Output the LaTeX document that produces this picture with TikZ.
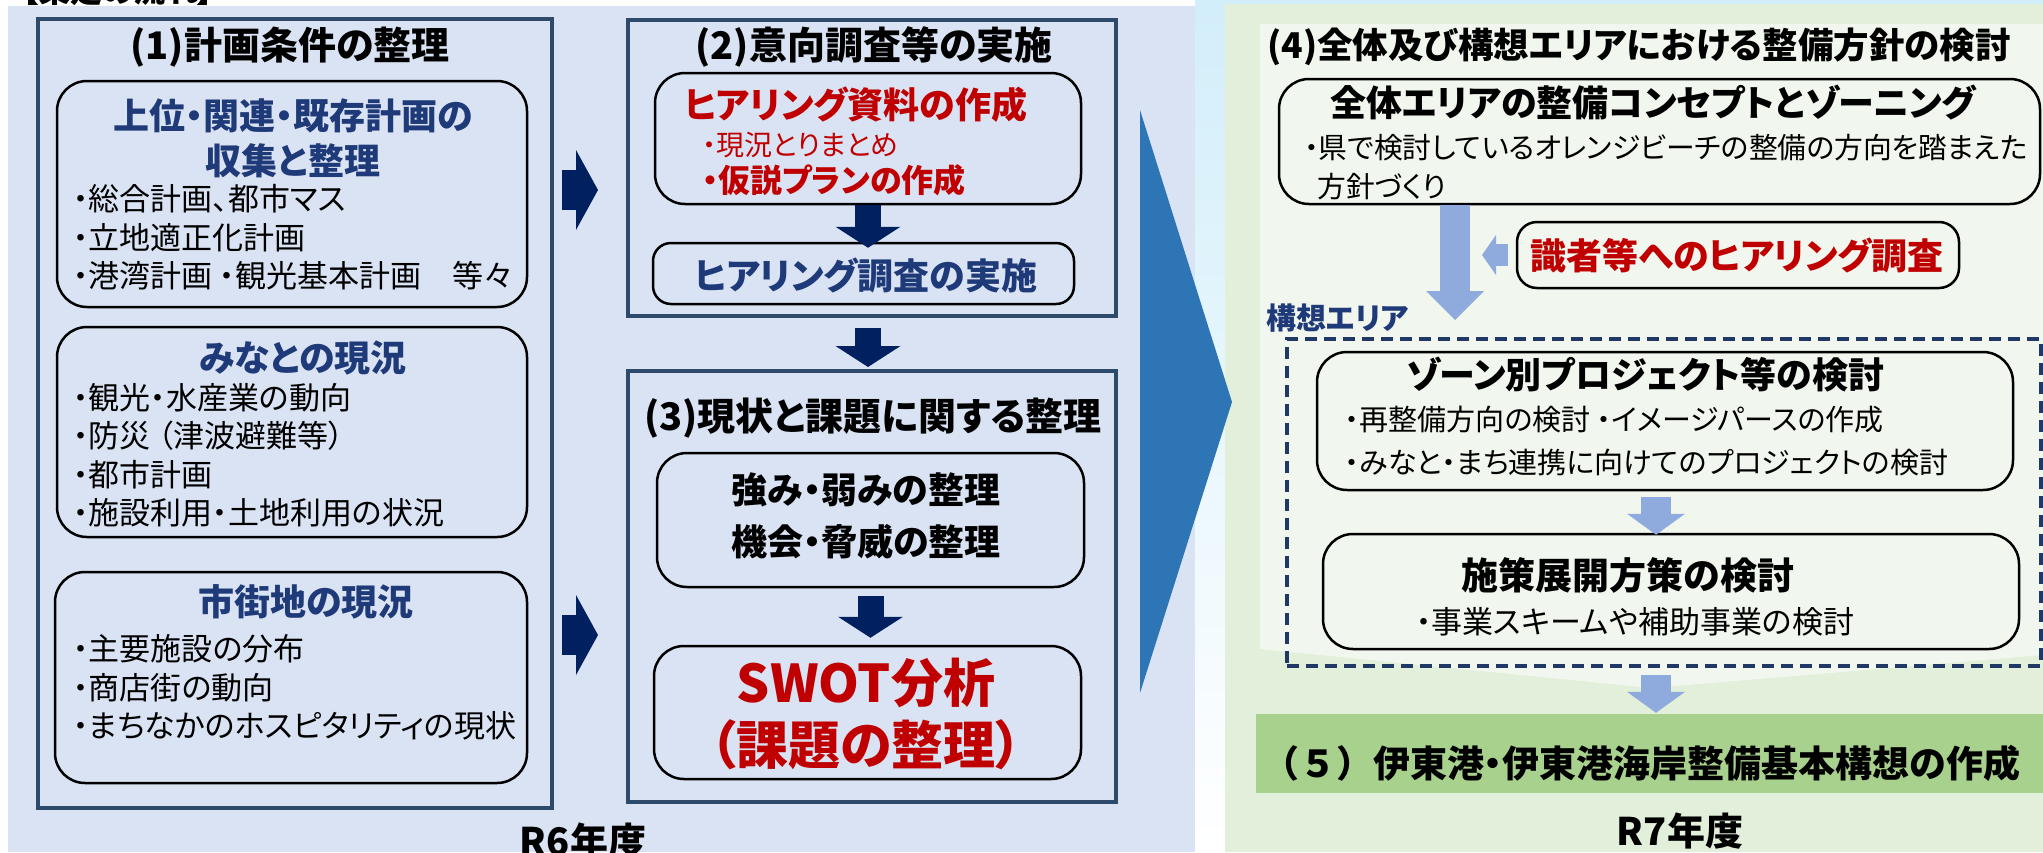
\documentclass[tikz,border=0pt]{standalone}
\usepackage{fontspec}
\setmainfont{Noto Sans CJK JP}[RawFeature=+palt]
\usetikzlibrary{arrows.meta,fit,positioning}

\definecolor{panelblue}{HTML}{DAE3F3}
\definecolor{panelgreen}{HTML}{E2EFDA}
\definecolor{innergreen}{HTML}{F1F7EE}
\definecolor{bandgreen}{HTML}{A9D18E}
\definecolor{framec}{HTML}{2D4A6B}
\definecolor{navy}{HTML}{002060}
\definecolor{textnavy}{HTML}{1F3A78}
\definecolor{darkred}{HTML}{C00000}
\definecolor{bigblue}{HTML}{2E75B6}
\definecolor{lightarrow}{HTML}{8FAADC}
\definecolor{dashc}{HTML}{1F3864}
\definecolor{glow}{HTML}{D2EEFA}

\tikzset{
  frame/.style={draw=framec, line width=4pt, inner sep=0pt},
  rbox/.style={draw=black, line width=2.5pt, rounded corners=30pt, inner sep=0pt},
  txt/.style={inner sep=0pt, align=center},
  head/.style={txt, font=\bfseries\fontsize{38}{44}\selectfont},
  subhead/.style={txt, font=\bfseries\fontsize{36}{45}\selectfont},
  bul/.style={inner sep=0pt, align=left, anchor=west, font=\fontsize{31}{38.5}\selectfont},
  navyR/.style={draw=navy, line width=40pt, -{Triangle[length=22pt, width=80pt, line width=0pt]}},
  navyD/.style={draw=navy, line width=26pt, -{Triangle[length=21pt, width=65pt, line width=0pt]}},
  lightD/.style={draw=lightarrow, line width=30pt, -{Triangle[length=21pt, width=58pt, line width=0pt]}},
  lightL/.style={draw=lightarrow, line width=22pt, -{Triangle[length=14pt, width=40pt, line width=0pt]}},
}

\begin{document}
\begin{tikzpicture}[x=1pt, y=-1pt]
\clip (0,0) rectangle (2043,852);
% background
\fill[white] (0,0) rectangle (2043,852);
\shade[top color=glow, bottom color=white] (1195,0) rectangle (2043,852);
\fill[panelblue] (8,6) rectangle (1195,852);
\fill[panelgreen] (1225,4) rectangle (2043,852);
\fill[innergreen] (1260,24) -- (2043,24) -- (2043,655) -- (1651,688) -- (1260,649) -- cycle;
\fill[bigblue] (1140,110) -- (1232,402) -- (1140,693) -- cycle;
\node[inner sep=0pt, anchor=base west, font=\bfseries\fontsize{32}{32}\selectfont] (flow) at (22,2) {【策定の流れ】};

% (1)
\node[frame, fit={(38,19) (552,808)}] (one) {};
\node[head] (onet) at (290,47) {(1)計画条件の整理};
\node[rbox, fit={(57,81) (527,307)}] (plans) {};
\node[subhead, text=textnavy] (planst) at (293,138) {上位・関連・既存計画の\\収集と整理};
\node[bul] (plansl) at (73,237.5) {・総合計画、都市マス\\・立地適正化計画\\・港湾計画 ・観光基本計画　等々};
\node[rbox, fit={(57,327) (527,537)}] (port) {};
\node[subhead, text=textnavy] (portt) at (303,358) {みなとの現況};
\node[bul] (portl) at (73,455.5) {・観光・水産業の動向\\・防災 （津波避難等）\\・都市計画\\・施設利用・土地利用の状況};
\node[rbox, fit={(55,572) (527,783)}] (town) {};
\node[subhead, text=textnavy] (townt) at (306,602) {市街地の現況};
\node[bul] (townl) at (73,687.5) {・主要施設の分布\\・商店街の動向\\・まちなかのホスピタリティの現状};

% (2)
\node[frame, fit={(628,20) (1116,316)}] (two) {};
\node[head] (twot) at (874,47) {(2)意向調査等の実施};
\node[rbox, fit={(655,73) (1081,204)}] (prep) {};
\node[subhead, anchor=west, text=darkred] (prept) at (684,105) {ヒアリング資料の作成};
\node[inner sep=0pt, anchor=west, text=darkred, font=\fontsize{28}{28}\selectfont] (prep1) at (702,145) {・現況とりまとめ};
\node[inner sep=0pt, anchor=west, text=darkred, font=\bfseries\fontsize{32}{32}\selectfont] (prep2) at (702,180) {・仮説プランの作成};
\node[rbox, rounded corners=18pt, fit={(653,243) (1074,304)}] (survey) {};
\node[subhead, text=textnavy] (surveyt) at (866,275) {ヒアリング調査の実施};

% (3)
\node[frame, fit={(628,371) (1116,802)}] (three) {};
\node[head] (threet) at (873,418) {(3)現状と課題に関する整理};
\node[rbox, fit={(657,453) (1084,587)}] (swot) {};
\node[txt, font=\bfseries\fontsize{36}{52}\selectfont] (swott) at (866,516) {強み・弱みの整理\\機会・脅威の整理};
\node[rbox, fit={(654,646) (1081,779)}] (issue) {};
\node[txt, text=darkred, font=\bfseries\fontsize{52}{62}\selectfont] (issuet) at (866,714) {SWOT分析\\（課題の整理）};
\node[inner sep=0pt, anchor=base, font=\bfseries\fontsize{38}{38}\selectfont] (r6) at (583,855) {R6年度};

% (4)
\node[head, anchor=west, font=\bfseries\fontsize{35.5}{40}\selectfont] (fourt) at (1267,47) {(4)全体及び構想エリアにおける整備方針の検討};
\node[rbox, fit={(1279,79) (2040,204)}] (concept) {};
\node[subhead] (conceptt) at (1653,102) {全体エリアの整備コンセプトとゾーニング};
\node[bul, font=\fontsize{28.8}{38.5}\selectfont] (concept1) at (1304,148) {・県で検討しているオレンジビーチの整備の方向を踏まえた};
\node[bul, font=\fontsize{28.8}{38.5}\selectfont] (concept2) at (1317,187) {方針づくり};
\node[rbox, rounded corners=20pt, fit={(1517,222) (1959,288)}] (expert) {};
\node[subhead, text=darkred] (expertt) at (1737,255) {識者等へのヒアリング調査};
\node[inner sep=0pt, anchor=west, text=textnavy, font=\bfseries\fontsize{30}{30}\selectfont] (areat) at (1266,318) {構想エリア};
\node[draw=dashc, line width=4pt, dash pattern=on 12pt off 7pt, inner sep=0pt, fit={(1287,339) (2041,666)}] (area) {};
\node[rbox, fit={(1317,352) (2013,490)}] (proj) {};
\node[subhead] (projt) at (1645,375) {ゾーン別プロジェクト等の検討};
\node[bul, font=\fontsize{29}{43}\selectfont] (projl) at (1345,441.5) {・再整備方向の検討 ・イメージパースの作成\\・みなと・まち連携に向けてのプロジェクトの検討};
\node[rbox, fit={(1323,534) (2019,649)}] (policy) {};
\node[txt, font=\bfseries\fontsize{37}{37}\selectfont] (policyt) at (1628,575) {施策展開方策の検討};
\node[txt, font=\fontsize{31}{31}\selectfont] (policyl) at (1635,622) {・事業スキームや補助事業の検討};

% (5)
\node[fill=bandgreen, inner sep=0pt, fit={(1256,714) (2043,793)}] (five) {};
\node[inner sep=0pt, anchor=west, font=\bfseries\fontsize{37}{37}\selectfont] (fivet) at (1262,763) {{\addfontfeature{RawFeature=-palt}（５）}伊東港・伊東港海岸整備基本構想の作成};
\node[inner sep=0pt, anchor=base, font=\bfseries\fontsize{38}{38}\selectfont] (r7) at (1680,845) {R7年度};

% connectors
\coordinate (a1) at (0,190);
\coordinate (a2) at (0,635);
\coordinate (dn) at (1455,0);
\coordinate (dm) at (1656,0);
\draw[navyR, shorten <=8pt, shorten >=28pt] (one.east |- a1) -- (two.west |- a1);
\draw[navyR, shorten <=8pt, shorten >=28pt] (one.east |- a2) -- (three.west |- a2);
\draw[navyD, shorten >=-6pt] (prep.south) -- (prep.south |- survey.north);
\draw[navyD, shorten <=10pt, shorten >=2pt] (two.south -| prep.south) -- (three.north -| prep.south);
\draw[navyD, shorten <=8pt, shorten >=7pt] (swot.south) -- (swot.south |- issue.north);
\draw[lightD, shorten >=17pt, -{Triangle[length=29pt, width=58pt, line width=0pt]}] (concept.south -| dn) -- (area.north -| dn);
\draw[lightL, shorten <=8pt, shorten >=27pt] (expert.west) -- (expert.west -| dn);
\draw[lightD, shorten <=6pt, shorten >=-2pt] (proj.south -| dm) -- (policy.north -| dm);
\draw[lightD, shorten <=7pt, shorten >=1pt] (area.south -| dm) -- (five.north -| dm);
\end{tikzpicture}
\end{document}
